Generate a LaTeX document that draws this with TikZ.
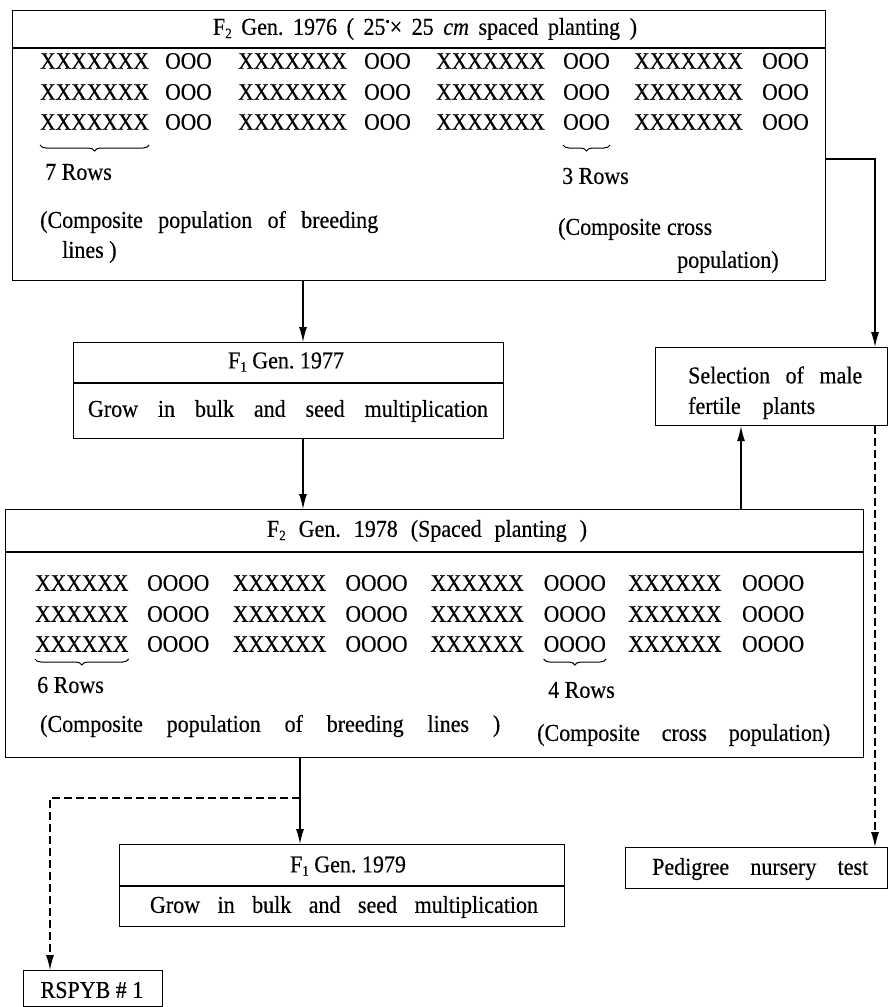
\documentclass[tikz,border=0pt]{standalone}
\usepackage{graphicx}
\usepackage{fontspec}
\setmainfont{Liberation Serif}[FakeBold=0.4]
\usetikzlibrary{arrows.meta,decorations.pathreplacing}
\newcommand\lblfont{\fontsize{22}{22}\selectfont}
\newcommand\rowfont{\fontsize{21.5}{21.5}\selectfont}
\newcommand\tall[1]{\scalebox{1}[1.1]{#1}}
\newcommand\spread[2]{\tall{\makebox[#1pt][s]{#2}}}
\newcommand\subnum[1]{\raisebox{-0.3ex}{\fontsize{13}{13}\selectfont #1}}
\tikzset{
  box/.style={draw, line width=1.2pt, inner sep=0pt, anchor=north west},
  lbl/.style={inner sep=0pt, font=\lblfont},
  rowtxt/.style={inner sep=0pt, anchor=west, font=\rowfont},
  divline/.style={line width=1.2pt},
  arr/.style={line width=1.2pt, -{Latex[length=15pt,width=8pt]}},
  darr/.style={arr, dash pattern=on 8pt off 4pt},
  brc/.style={decorate, decoration={brace, mirror, amplitude=6pt}, line width=1pt},
}
\begin{document}
\begin{tikzpicture}[x=1pt,y=-1pt]
\useasboundingbox (0,0) rectangle (888,1007);

% ---------- top box : F2 1976 ----------
\node[box, minimum width=813pt, minimum height=270pt] (top) at (12,10) {};
\coordinate (dA) at (0,48);
\draw[divline] (top.west |- dA) -- (top.east |- dA);
\node[lbl] (hA) at (425,29) {\spread{424}{F\subnum{2} Gen.\ 1976 ( 25\raisebox{0.8ex}{\fontsize{12}{12}\selectfont\textbullet}× 25 \textit{cm} spaced planting )}};
\foreach \i in {0,...,3}{
  \foreach \r/\yy in {1/61,2/92,3/122}{
    \node[rowtxt] (ax\i\r) at ({40+198*\i},\yy) {\tall{XXXXXXX}};
    \node[rowtxt] (ao\i\r) at ({165+199*\i},\yy) {\tall{OOO}};
  }
}
\coordinate (bA) at (0,145);
\draw[brc] (ax03.west |- bA) -- (ax03.east |- bA);
\draw[brc] (ao23.west |- bA) -- (ao23.east |- bA);
\node[lbl, anchor=west] (rA1) at (45,172) {\tall{7 Rows}};
\node[lbl, anchor=west] (rA2) at (562,176) {\tall{3 Rows}};
\node[lbl, anchor=west] (cA1) at (40,222) {\spread{338}{(Composite population of breeding}};
\node[lbl, anchor=west] (cA2) at (62,252) {\tall{lines )}};
\node[lbl, anchor=west] (cA3) at (558,229) {\spread{154}{(Composite cross}};
\node[lbl, anchor=west] (cA4) at (677,262) {\tall{population)}};

% ---------- F1 1977 ----------
\node[box, minimum width=430pt, minimum height=96pt] (f77) at (73,342) {};
\coordinate (dB) at (0,383);
\draw[divline] (f77.west |- dB) -- (f77.east |- dB);
\node[lbl] (hB) at (286,362) {\tall{F\subnum{1} Gen.\ 1977}};
\node[lbl] (gB) at (288,411) {\spread{400}{Grow in bulk and seed multiplication}};

% ---------- selection ----------
\node[box, minimum width=231.5pt, minimum height=78pt] (sel) at (655,347) {};
\node[lbl, anchor=west] (sA) at (688,375) {\spread{174}{Selection of male}};
\node[lbl, anchor=west] (sB) at (688,408) {\spread{127}{fertile plants}};

% ---------- F2 1978 ----------
\node[box, minimum width=858pt, minimum height=248pt] (f78) at (5,509) {};
\coordinate (dC) at (0,552);
\draw[divline] (f78.west |- dC) -- (f78.east |- dC);
\node[lbl] (hC) at (427,531) {\spread{320}{F\subnum{2} Gen.\ 1978 (Spaced planting )}};
\foreach \i in {0,...,3}{
  \foreach \r/\yy in {1/583,2/614,3/644}{
    \node[rowtxt] (bx\i\r) at ({35+197.7*\i},\yy) {\tall{XXXXXX}};
    \node[rowtxt] (bo\i\r) at ({147+198.3*\i},\yy) {\tall{OOOO}};
  }
}
\coordinate (bB) at (0,659);
\draw[brc] (bx03.west |- bB) -- (bx03.east |- bB);
\draw[brc] (bo23.west |- bB) -- (bo23.east |- bB);
\node[lbl, anchor=west] (rB1) at (37,685) {\tall{6 Rows}};
\node[lbl, anchor=west] (rB2) at (548,690) {\tall{4 Rows}};
\node[lbl, anchor=west] (cB1) at (40,726) {\spread{460}{(Composite population of breeding lines )}};
\node[lbl, anchor=west] (cB2) at (537,735) {\spread{293}{(Composite cross population)}};

% ---------- F1 1979 ----------
\node[box, minimum width=445pt, minimum height=82pt] (f79) at (119,844) {};
\coordinate (dD) at (0,886);
\draw[divline] (f79.west |- dD) -- (f79.east |- dD);
\node[lbl] (hD) at (348,866) {\tall{F\subnum{1} Gen.\ 1979}};
\node[lbl] (gD) at (344,907) {\spread{388}{Grow in bulk and seed multiplication}};

% ---------- pedigree ----------
\node[box, minimum width=261.5pt, minimum height=41pt] (ped) at (625,847) {};
\node[lbl, anchor=west] (pA) at (652,869) {\spread{216}{Pedigree nursery test}};

% ---------- RSPYB ----------
\node[box, minimum width=139pt, minimum height=36pt] (rsp) at (23,970) {};
\node[lbl] (rA) at (92,990) {\tall{RSPYB \# 1}};

% ---------- connectors ----------
\coordinate (xa) at (303,0);
\coordinate (xb) at (300,0);
\coordinate (xs) at (741,0);
\coordinate (tr) at (875,159);
\coordinate (split) at (300,798);
\coordinate (dl) at (50,798);
\draw[arr] (top.south -| xa) -- (f77.north -| xa);
\draw[arr] (f77.south -| xa) -- (f78.north -| xa);
\draw[arr] (top.east |- tr) -| (sel.north -| tr);
\draw[arr] (f78.north -| xs) -- (sel.south -| xs);
\draw[darr] (sel.south -| tr) -- (ped.north -| tr);
\draw[arr] (f78.south -| xb) -- (f79.north -| xb);
\draw[darr] (split) -- (dl) -- (rsp.north -| dl);
\end{tikzpicture}
\end{document}
